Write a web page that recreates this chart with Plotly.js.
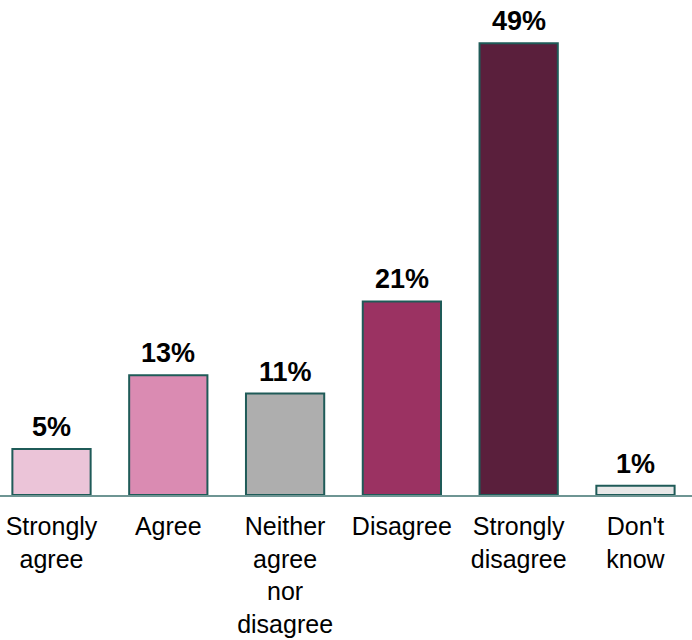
<!DOCTYPE html>
<html>
<head>
<meta charset="utf-8">
<script src="https://cdn.plot.ly/plotly-3.0.1.min.js"></script>
<style>html,body{margin:0;padding:0;background:#fff;}#chart{width:692px;height:640px;}</style>
</head>
<body>
<div id="chart"></div>
<script>
const categories = ["Strongly<br>agree", "Agree", "Neither<br>agree<br>nor<br>disagree", "Disagree", "Strongly<br>disagree", "Don't<br>know"];
const values = [5, 13, 11, 21, 49, 1];
const labels = ["5%", "13%", "11%", "21%", "49%", "1%"];
const colors = ["#EBC4D8", "#DA8BB2", "#AEAEAE", "#9B3262", "#5A1F3C", "#E8E8E8"];

const idx = categories.map((c, i) => i);
const trace = {
  type: "bar",
  x: idx,
  y: values,
  width: 0.67,
  marker: { color: colors, line: { color: "#1F5B58", width: 2 } },
  hoverinfo: "skip"
};
const annotations = values.map((v, i) => ({
  x: i, y: v, xref: "x", yref: "y",
  text: "<b>" + labels[i] + "</b>",
  showarrow: false, yanchor: "bottom", yshift: 5,
  font: { family: "Liberation Sans, Arial, sans-serif", size: 27, color: "#000" }
}));
const layout = {
  width: 692, height: 640,
  margin: { l: 0, r: 0, t: 0, b: 145 },
  paper_bgcolor: "#fff", plot_bgcolor: "#fff",
  showlegend: false,
  font: { family: "Liberation Sans, Arial, sans-serif", size: 25, color: "#000" },
  xaxis: {
    range: [-0.441, 5.484],
    tickmode: "array", tickvals: idx, ticktext: categories,
    showline: true, linecolor: "#6E9593", linewidth: 2,
    ticks: "", showgrid: false, zeroline: false,
    ticklabelstandoff: 8,
    tickfont: { family: "Liberation Sans, Arial, sans-serif", size: 25, color: "#000" }, fixedrange: true
  },
  yaxis: {
    range: [0, 53.7], visible: false, showgrid: false, zeroline: false, fixedrange: true
  },
  annotations: annotations,
  bargap: 0.33
};
Plotly.newPlot("chart", [trace], layout, { staticPlot: true });
</script>
</body>
</html>
